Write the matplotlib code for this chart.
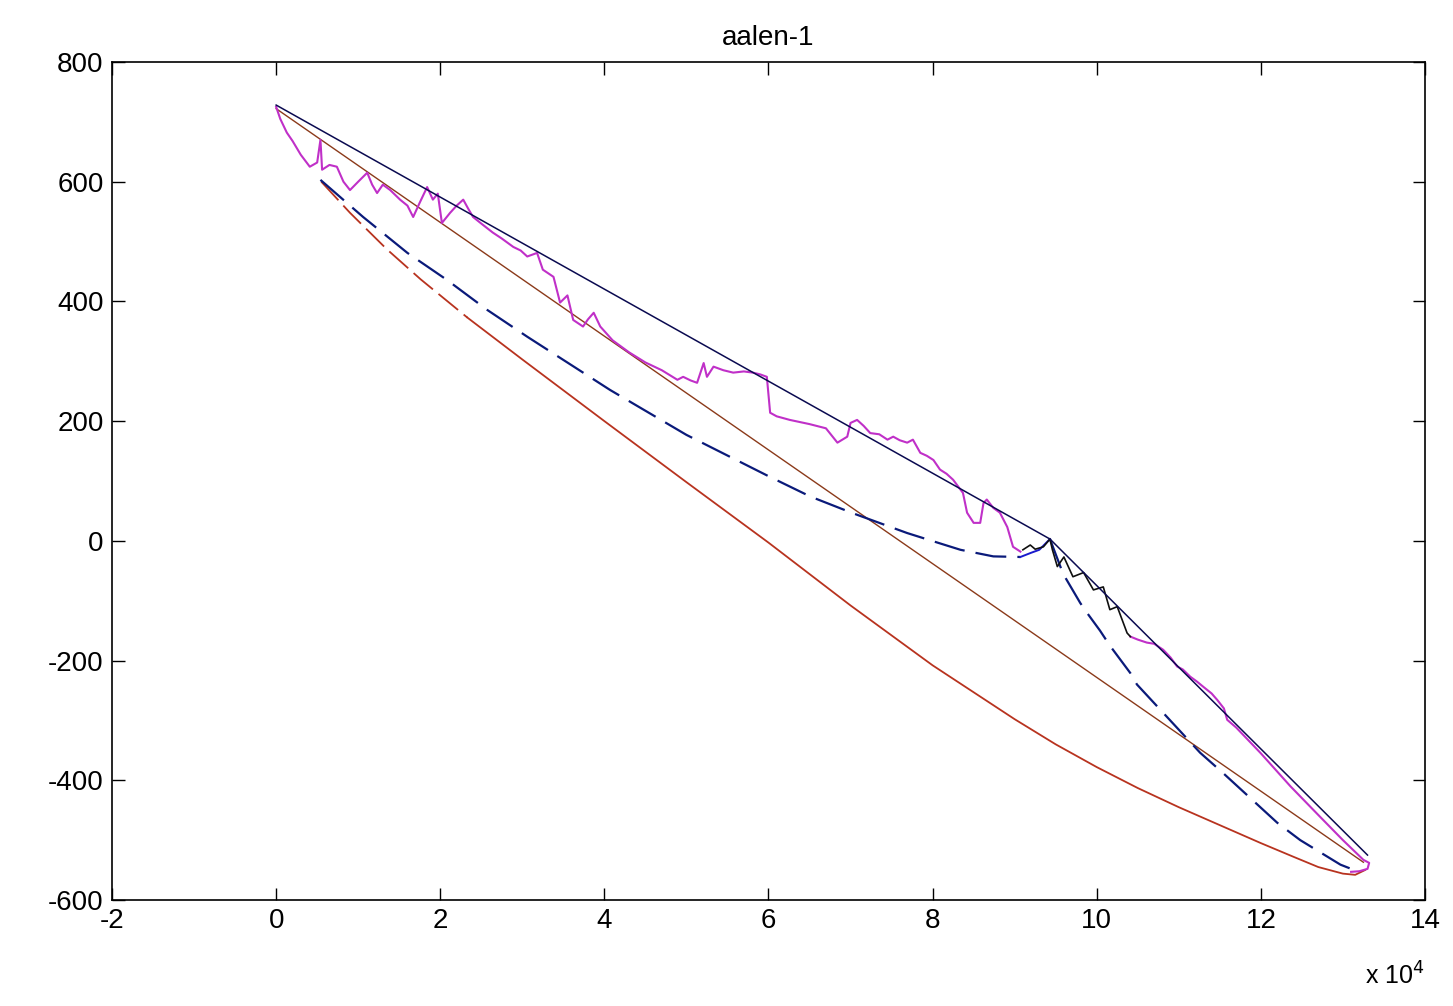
import matplotlib
matplotlib.use("Agg")
import matplotlib.pyplot as plt
from matplotlib import font_manager

# x values in units of 10^4
navy_x = [0, 9.43, 13.3]
navy_y = [728, 3, -525]

brown_x = [0, 13.25]
brown_y = [722, -537]

mag1_x = [0, 0.05, 0.13, 0.2, 0.3, 0.41, 0.5, 0.54, 0.56, 0.65, 0.74, 0.82, 0.9, 1.0,
          1.11, 1.17, 1.23, 1.3, 1.39, 1.45, 1.51, 1.6, 1.67, 1.75, 1.84, 1.91, 1.97,
          2.02, 2.12, 2.2, 2.28, 2.34, 2.4, 2.5, 2.64, 2.75, 2.89, 2.98, 3.06, 3.18,
          3.25, 3.38, 3.46, 3.55, 3.62, 3.74, 3.8, 3.87, 3.95, 4.1, 4.3, 4.5, 4.7,
          4.89, 4.96, 5.05, 5.13, 5.21, 5.25, 5.33, 5.45, 5.57, 5.7, 5.81, 5.9, 5.98,
          6.02, 6.1, 6.26, 6.5, 6.7, 6.84, 6.96, 7.0, 7.08, 7.16, 7.24, 7.35, 7.45,
          7.52, 7.6, 7.69, 7.76, 7.85, 7.93, 8.01, 8.09, 8.17, 8.25, 8.37, 8.42, 8.5,
          8.58, 8.62, 8.66, 8.74, 8.82, 8.91, 8.98, 9.07]
mag1_y = [725, 705, 682, 668, 645, 625, 632, 670, 620, 628, 625, 600, 586, 600,
          615, 595, 581, 595, 586, 578, 570, 560, 541, 565, 591, 570, 580,
          531, 548, 560, 570, 555, 541, 530, 515, 505, 491, 485, 475, 481,
          453, 441, 398, 410, 369, 358, 370, 381, 358, 335, 315, 298, 285,
          269, 274, 268, 264, 297, 274, 291, 285, 281, 283, 281, 278, 274,
          214, 208, 202, 195, 188, 164, 174, 197, 202, 192, 180, 178, 169,
          174, 168, 164, 169, 147, 142, 135, 119, 112, 102, 80, 47, 30,
          30, 63, 69, 55, 47, 23, -10, -18]

black_x = [9.1, 9.19, 9.25, 9.35, 9.43, 9.46, 9.52, 9.6, 9.71, 9.84, 9.96, 10.08,
           10.16, 10.25, 10.37, 10.41]
black_y = [-15, -7, -14, -10, 3, -15, -43, -27, -60, -53, -82, -77,
           -115, -110, -154, -160]

mag2_x = [10.41, 10.5, 10.61, 10.7, 10.81, 10.9, 10.98, 11.05, 11.14, 11.22, 11.3,
          11.4, 11.47, 11.55, 11.59, 11.7, 12.0, 12.36, 12.7, 13.0, 13.25, 13.32,
          13.3, 13.2, 13.1]
mag2_y = [-160, -165, -170, -172, -182, -195, -210, -215, -227, -235, -244,
          -255, -266, -280, -299, -312, -355, -410, -458, -500, -533, -538,
          -548, -552, -553]

dash1_x = [0.54, 1.06, 1.6, 2.08, 2.57, 3.06, 4.07, 5.0, 6.0, 6.51, 7.03, 7.69,
           8.06, 8.34, 8.74, 9.07]
dash1_y = [603, 541, 481, 436, 386, 341, 252, 177, 108, 74, 46, 13,
           -3, -15, -26, -27]

link_x = [9.07, 9.2, 9.3, 9.43]
link_y = [-27, -20, -15, 3]

dash2_x = [9.43, 9.59, 9.8, 9.88, 10.04, 10.16, 10.41, 10.49, 10.74, 11.26, 11.54,
           12.2, 12.48, 12.97, 13.1]
dash2_y = [3, -55, -104, -120, -150, -175, -221, -240, -277, -354, -388,
           -471, -500, -541, -548]

# lower curve: dashed near its start, solid afterwards
red_start_x = [0.55, 0.9, 1.35, 1.76, 2.33]
red_start_y = [600, 548, 487, 437, 373]
red_x = [2.33, 3.0, 4.0, 5.0, 6.0, 7.0, 8.0, 9.0, 9.5, 10.0, 10.5, 11.0, 11.5,
         12.0, 12.4, 12.7, 13.0, 13.15, 13.27]
red_y = [373, 303, 200, 98, -3, -108, -208, -298, -340, -378, -413, -445, -475,
         -505, -528, -545, -556, -558, -550]

xticks = [-2, 0, 2, 4, 6, 8, 10, 12, 14]
yticks = [-600, -400, -200, 0, 200, 400, 600, 800]


def main():
    names = {f.name for f in font_manager.fontManager.ttflist}
    if 'Liberation Sans Narrow' in names:
        fam, fs = ['Liberation Sans Narrow', 'DejaVu Sans'], 24
    else:
        fam, fs = ['Liberation Sans', 'DejaVu Sans'], 20
    plt.rcParams['font.family'] = fam
    plt.rcParams['axes.unicode_minus'] = False

    fig = plt.figure(figsize=(14.53, 10.06), dpi=100)
    ax = fig.add_axes([0.0771, 0.1054, 0.9036, 0.833])

    ax.plot(red_start_x, red_start_y, color='#b8331f', lw=1.3, dashes=(14, 4))
    ax.plot(red_x, red_y, color='#b8331f', lw=1.3)
    ax.plot(brown_x, brown_y, color='#8b3a1a', lw=1.0)
    ax.plot(dash1_x, dash1_y, color='#0a1a7a', lw=1.6, dashes=(14, 5))
    ax.plot(dash2_x, dash2_y, color='#0a1a7a', lw=1.6, dashes=(14, 5))
    ax.plot(link_x, link_y, color='#1a1acc', lw=1.4)
    ax.plot(mag1_x, mag1_y, color='#c030c8', lw=1.5)
    ax.plot(mag2_x, mag2_y, color='#c030c8', lw=1.5)
    ax.plot(black_x, black_y, color='#101010', lw=1.2)
    ax.plot(navy_x, navy_y, color='#0a0a50', lw=1.1)

    ax.set_xlim(-2, 14)
    ax.set_ylim(-600, 800)
    ax.set_xticks(xticks)
    ax.set_yticks(yticks)
    ax.tick_params(direction='in', length=9, width=1, top=True, right=True,
                   labelsize=fs, pad=6)
    for s in ax.spines.values():
        s.set_linewidth(1.2)

    ax.set_title("aalen-1", fontsize=fs, pad=12)
    ax.text(1.0, -0.075, "x 10$^4$", transform=ax.transAxes, ha='right', va='top',
            fontsize=fs - 2)

    fig.savefig("out.png", dpi=100)


if __name__ == "__main__":
    main()
